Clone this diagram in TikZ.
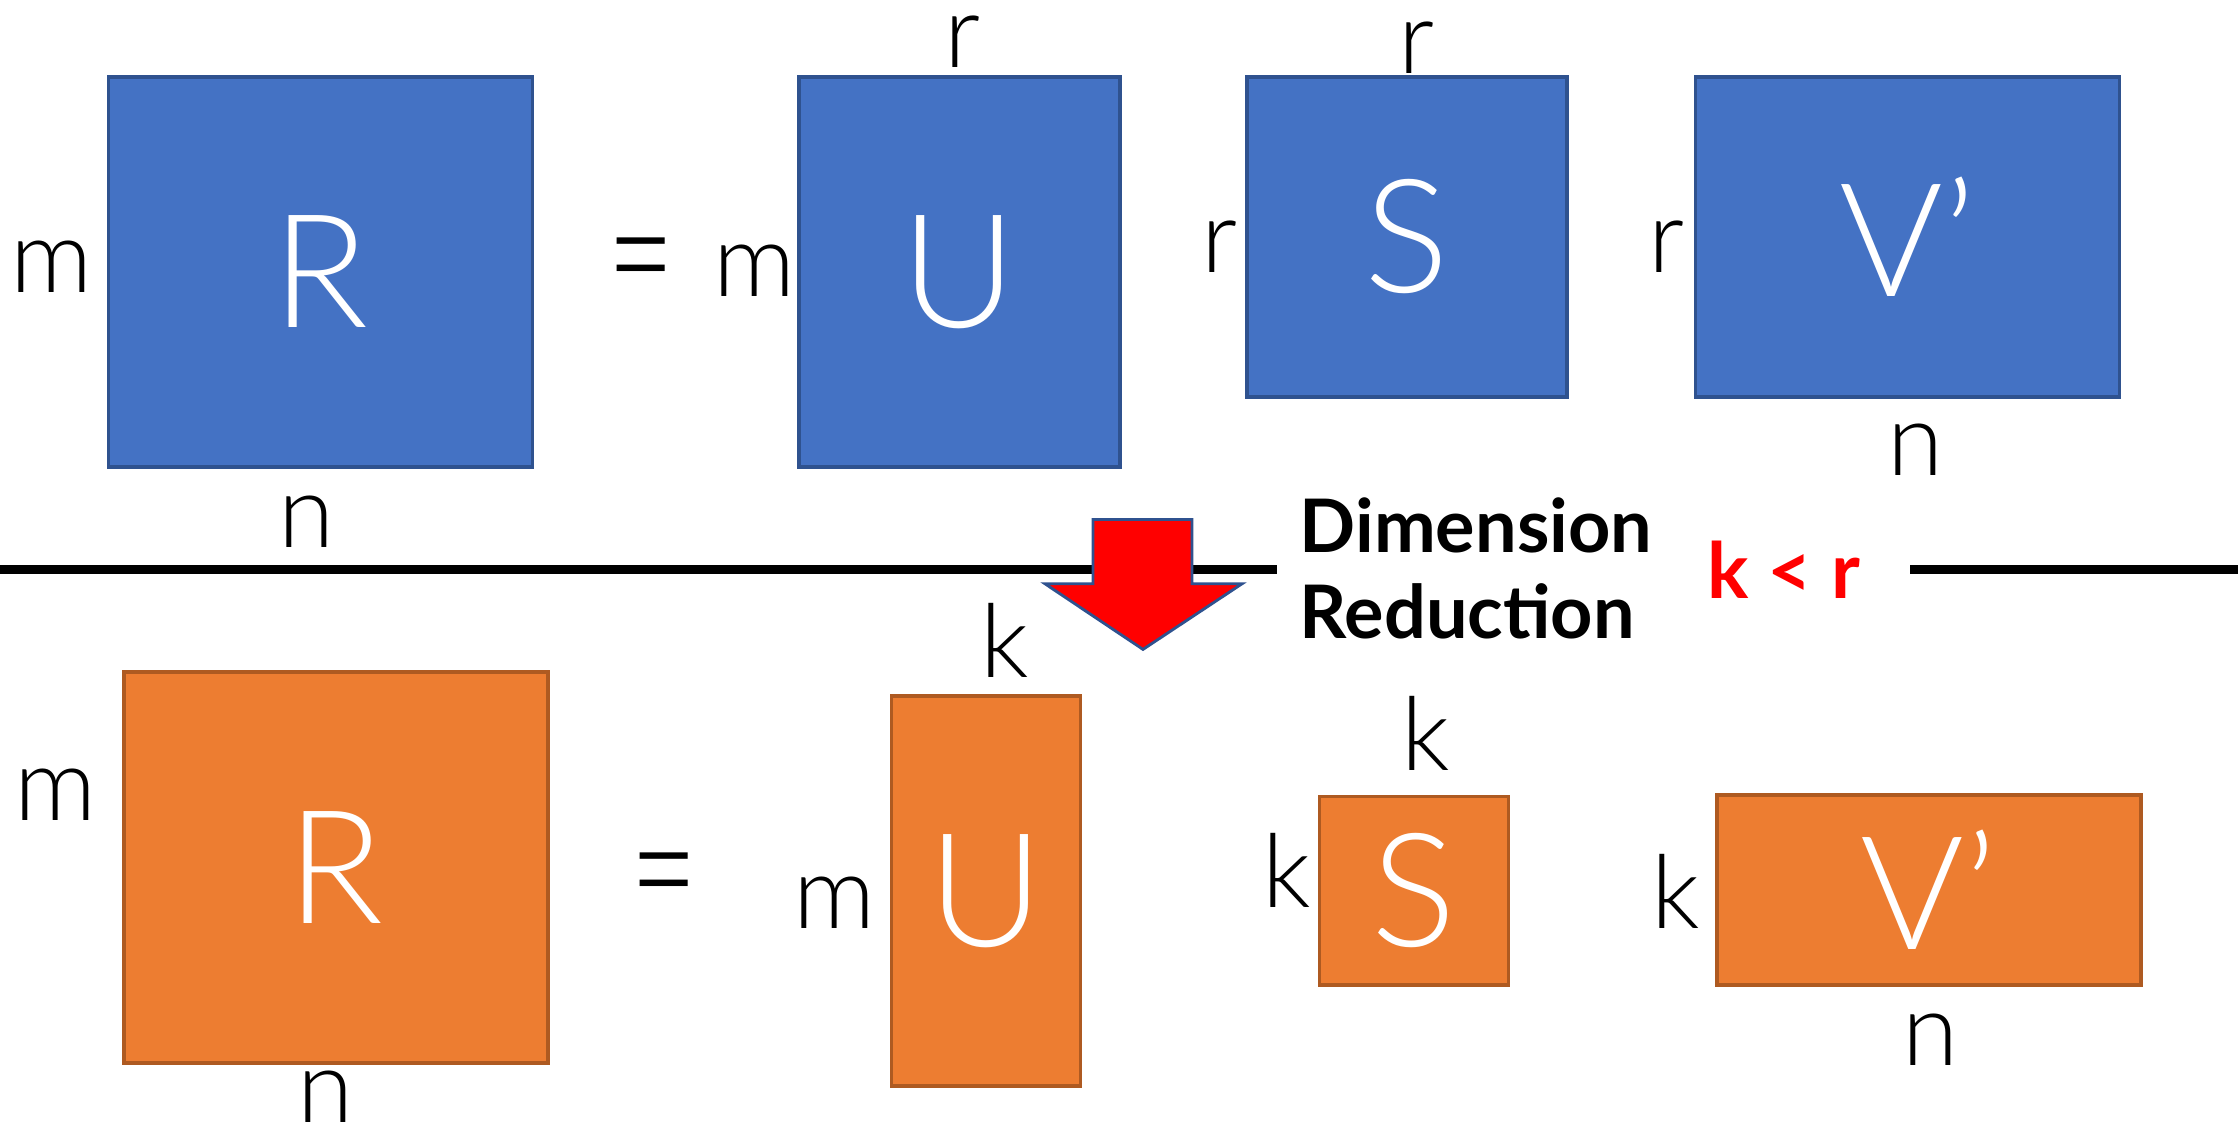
\documentclass[tikz,border=0pt]{standalone}
\usepackage{fontspec}
\setmainfont{Lato}
\newfontfamily\thinfont{Lato Light}
\definecolor{matblue}{HTML}{4472C4}
\definecolor{edgeblue}{HTML}{2F528F}
\definecolor{matorange}{HTML}{ED7D31}
\definecolor{edgeorange}{HTML}{AE5A21}

\begin{document}
\begin{tikzpicture}[
    x=0.01cm, y=-0.01cm,
    mat/.style={line width=1pt, inner sep=0pt, text=white,
                font=\thinfont\fontsize{45}{45}\selectfont},
    blue mat/.style={mat, draw=edgeblue, fill=matblue},
    orange mat/.style={mat, draw=edgeorange, fill=matorange},
    dim/.style={inner sep=0pt, font=\thinfont\fontsize{29}{29}\selectfont},
    eq/.style={inner sep=0pt, font=\thinfont\fontsize{33}{33}\selectfont},
    note/.style={inner sep=0pt, align=left,
                 font=\bfseries\fontsize{21}{24.4}\selectfont},
]
    \useasboundingbox (0,0) rectangle (2238,1127);

    % full rank
    \node[blue mat, minimum width=4.24cm, minimum height=3.90cm] (R1) at (320.5,271.9) {R};
    \node[blue mat, minimum width=3.21cm, minimum height=3.90cm] (U1) at (959.5,271.9) {U};
    \node[blue mat, minimum width=3.20cm, minimum height=3.20cm] (S1) at (1407,237) {S};
    \node[blue mat, minimum width=4.24cm, minimum height=3.20cm] (V1) at (1907.5,237) {V’};

    \node[dim] at (51.4,267) {m};
    \node[dim] at (307,522) {n};
    \node[eq] at (641,275.5) {\scalebox{1}[1.5]{=}};
    \node[dim] at (755,271) {m};
    \node[dim] at (963,42) {r};
    \node[dim] at (1220,247) {r};
    \node[dim] at (1417,48) {r};
    \node[dim] at (1667,247) {r};
    \node[dim] at (1915.5,450) {n};

    % separator and arrow
    \coordinate (sepA) at (0,569.5);
    \coordinate (sepB) at (1277,569.5);
    \coordinate (sepC) at (1910,569.5);
    \coordinate (sepD) at (2238,569.5);
    \draw[line width=2.3pt] (sepA) -- (sepB);
    \draw[line width=2.3pt] (sepC) -- (sepD);
    \draw[draw=edgeblue, fill=red, line width=0.8pt]
        (1093,519.5) -- (1192,519.5) -- (1192,583.8) -- (1242,583.8)
        -- (1143,649.4) -- (1045,583.8) -- (1093,583.8) -- cycle;
    \node[note, anchor=west] (dimred) at (1299,568.5) {Dimension\\Reduction};
    \node[inner sep=0pt, text=red, font=\bfseries\fontsize{22}{22}\selectfont]
        (kr) at (1784,569.5) {k < r};

    % truncated
    \node[orange mat, minimum width=4.24cm, minimum height=3.91cm] (R2) at (336,867.5) {R};
    \node[orange mat, minimum width=1.885cm, minimum height=3.895cm] (U2) at (986,891) {U};
    \node[orange mat, minimum width=1.886cm, minimum height=1.884cm] (S2) at (1414,890.6) {S};
    \node[orange mat, minimum width=4.24cm, minimum height=1.90cm] (V2) at (1929,890) {V’};

    \node[dim] at (55.7,795) {m};
    \node[dim] at (325.4,1097) {n};
    \node[eq] at (663.7,890.6) {\scalebox{1}[1.5]{=}};
    \node[dim] at (1005,640) {k};
    \node[dim] at (835,902.7) {m};
    \node[dim] at (1426,733.6) {k};
    \node[dim] at (1287,870.6) {k};
    \node[dim] at (1675.6,891.3) {k};
    \node[dim] at (1931,1039.8) {n};
\end{tikzpicture}
\end{document}
